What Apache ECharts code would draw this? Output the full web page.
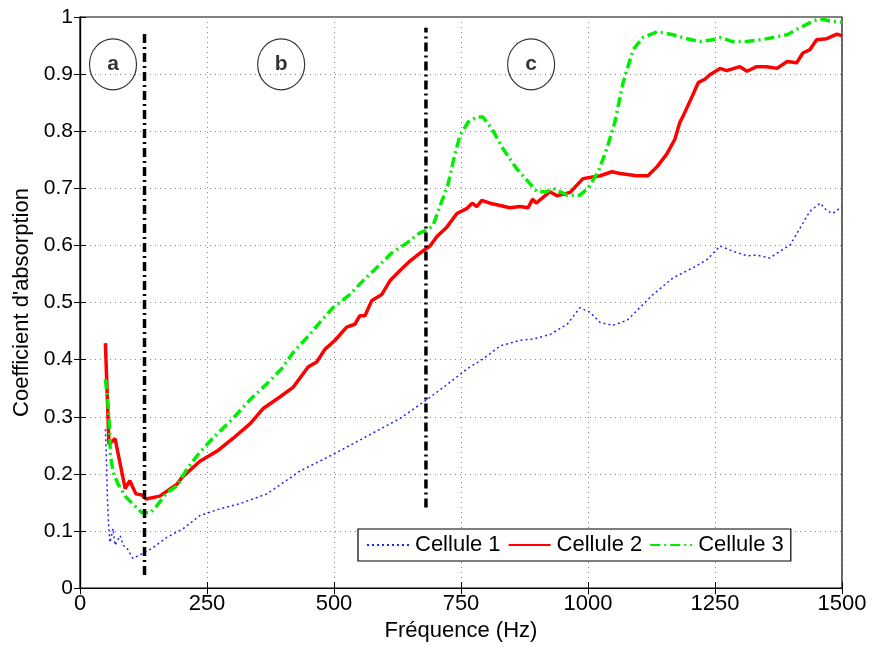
<!DOCTYPE html>
<html>
<head>
<meta charset="utf-8">
<script src="https://cdn.jsdelivr.net/npm/echarts@6/dist/echarts.min.js"></script>
<style>html,body{margin:0;padding:0;background:#fff;}#chart{width:872px;height:647px;}</style>
</head>
<body>
<div id="chart"></div>
<script>
// ---- Data ----
const freq1 = [50,52,54,56,59,65,69,79,85,93,104,124,144,171,203,236,276,315,368,433,498,565,630,683,722,762,793,827,866,892,925,959,984,1004,1024,1049,1077,1102,1128,1167,1207,1234,1260,1285,1313,1332,1358,1378,1398,1417,1437,1457,1470,1482,1500];
const cell1 = [0.278,0.226,0.156,0.115,0.080,0.104,0.075,0.092,0.075,0.069,0.052,0.061,0.071,0.089,0.104,0.127,0.139,0.148,0.165,0.205,0.234,0.266,0.297,0.330,0.356,0.384,0.401,0.424,0.434,0.436,0.444,0.462,0.491,0.483,0.465,0.460,0.469,0.491,0.514,0.543,0.561,0.575,0.599,0.590,0.582,0.583,0.578,0.590,0.601,0.630,0.660,0.674,0.661,0.656,0.668];

const freq2 = [50,57,69,89,98,110,122,130,157,191,200,236,270,301,335,360,394,420,449,466,482,502,525,541,551,561,574,594,610,630,650,673,689,703,722,742,762,772,781,791,807,827,846,866,882,891,898,925,939,965,990,1024,1047,1063,1096,1118,1136,1155,1171,1181,1187,1205,1217,1230,1240,1260,1273,1299,1313,1332,1352,1372,1392,1411,1423,1437,1450,1470,1480,1490,1500];
const cell2 = [0.429,0.252,0.262,0.174,0.188,0.165,0.163,0.156,0.161,0.182,0.193,0.222,0.24,0.262,0.288,0.314,0.335,0.352,0.387,0.396,0.418,0.434,0.457,0.462,0.477,0.477,0.503,0.514,0.538,0.556,0.573,0.589,0.599,0.616,0.632,0.656,0.665,0.674,0.668,0.679,0.674,0.670,0.666,0.668,0.666,0.681,0.674,0.694,0.687,0.693,0.717,0.722,0.729,0.726,0.722,0.722,0.738,0.760,0.786,0.816,0.826,0.861,0.885,0.891,0.899,0.910,0.906,0.913,0.905,0.913,0.913,0.910,0.922,0.920,0.937,0.943,0.960,0.962,0.966,0.970,0.967];

const freq3 = [50,55,58,60,66,75,89,104,122,138,151,171,191,210,236,262,301,335,368,397,420,447,472,498,531,557,584,614,643,669,683,695,709,724,738,748,764,781,793,811,833,860,880,900,919,931,959,984,1000,1020,1037,1053,1069,1089,1108,1136,1167,1195,1220,1246,1260,1285,1313,1339,1365,1392,1417,1443,1457,1476,1500];
const cell3 = [0.366,0.323,0.283,0.231,0.201,0.182,0.161,0.147,0.132,0.132,0.144,0.167,0.179,0.208,0.238,0.263,0.297,0.330,0.358,0.384,0.413,0.439,0.465,0.491,0.514,0.538,0.561,0.587,0.604,0.622,0.627,0.635,0.670,0.705,0.760,0.792,0.816,0.825,0.825,0.804,0.769,0.734,0.714,0.694,0.694,0.700,0.688,0.688,0.700,0.729,0.769,0.816,0.885,0.943,0.964,0.974,0.969,0.962,0.957,0.960,0.964,0.957,0.957,0.960,0.964,0.969,0.981,0.993,0.997,0.993,0.991];

const seriesNames = ['Cellule 1','Cellule 2','Cellule 3'];

// Zone separators (frequency, lower and upper extent)
const sepFreq = [127, 681];
const sepLow = [0.023, 0.141];
const sepHigh = [0.972, 0.981];

// Zone annotations
const zoneLabels = ['a','b','c'];
const zoneFreq = [65, 396, 888];
const zoneLevel = [0.917, 0.917, 0.917];

const xTicks = {min:0, max:1500, interval:250};
const yTicks = {min:0, max:1, interval:0.1};

// ---- Chart ----
const FONT = '"Liberation Sans", Arial, sans-serif';
const pairs = (xs, ys) => xs.map((x,i)=>[x, ys[i]]);

const chart = echarts.init(document.getElementById('chart'), null, {renderer:'canvas'});

const sepSeries = sepFreq.map((f,i)=>({
  type:'line', name:'sep'+i, silent:true, symbol:'none', z:5,
  data:[[f, sepLow[i]],[f, sepHigh[i]]],
  lineStyle:{color:'#000', width:3.5, type:[9,4,2,4]}
}));

const option = {
  animation:false,
  backgroundColor:'#fff',
  grid:{left:80, right:30, top:17, bottom:54, show:true, borderColor:'#000', borderWidth:1.2},
  legend:{
    data:seriesNames,
    left:358, top:529,
    padding:[5,7,5,8],
    itemWidth:42, itemHeight:14, itemGap:7,
    itemStyle:{opacity:0},
    borderColor:'#000', borderWidth:1.2, backgroundColor:'#fff',
    textStyle:{fontFamily:FONT, fontSize:22, color:'#000', padding:[0,0,0,1]}
  },
  xAxis:[{
    type:'value', min:xTicks.min, max:xTicks.max, interval:xTicks.interval,
    name:'Fréquence (Hz)', nameLocation:'middle', nameGap:28,
    nameTextStyle:{fontFamily:FONT, fontSize:22, color:'#000'},
    axisLine:{onZero:false, lineStyle:{color:'#000', width:1.2}},
    axisTick:{inside:true, length:6, lineStyle:{color:'#000'}},
    axisLabel:{fontFamily:FONT, fontSize:22, color:'#000', margin:5, formatter:v=>String(v)},
    splitLine:{show:true, lineStyle:{color:'#888', width:1, type:[1,4]}}
  },{
    type:'value', position:'top', min:xTicks.min, max:xTicks.max, interval:xTicks.interval,
    axisLine:{lineStyle:{color:'#000', width:1.2}},
    axisTick:{inside:true, length:6, lineStyle:{color:'#000'}},
    axisLabel:{show:false}, splitLine:{show:false}
  }],
  yAxis:[{
    type:'value', min:yTicks.min, max:yTicks.max, interval:yTicks.interval,
    name:"Coefficient d'absorption", nameLocation:'middle', nameGap:42,
    nameTextStyle:{fontFamily:FONT, fontSize:22, color:'#000'},
    axisLine:{show:true, onZero:false, lineStyle:{color:'#000', width:1.2}},
    axisTick:{show:true, inside:true, length:6, lineStyle:{color:'#000'}},
    axisLabel:{fontFamily:FONT, fontSize:21, color:'#000', margin:7, formatter:v=>String(Math.round(v*10)/10)},
    splitLine:{show:true, lineStyle:{color:'#888', width:1, type:[1,4]}}
  },{
    type:'value', position:'right', min:yTicks.min, max:yTicks.max, interval:yTicks.interval,
    axisLine:{show:true, lineStyle:{color:'#000', width:1.2}},
    axisTick:{show:true, inside:true, length:6, lineStyle:{color:'#000'}},
    axisLabel:{show:false}, splitLine:{show:false}
  }],
  series:[
    {type:'line', name:seriesNames[0], data:pairs(freq1, cell1), symbol:'none', z:3,
     lineStyle:{color:'#2222ff', width:1.5, type:[2,3]}, itemStyle:{color:'#2222ff'}},
    {type:'line', name:seriesNames[1], data:pairs(freq2, cell2), symbol:'none', z:3,
     lineStyle:{color:'#ff0000', width:3.5, type:'solid'}, itemStyle:{color:'#ff0000'}},
    {type:'line', name:seriesNames[2], data:pairs(freq3, cell3), symbol:'none', z:4,
     lineStyle:{color:'#00ee00', width:3.5, type:[10,4,2,4]}, itemStyle:{color:'#00ee00'}},
    ...sepSeries,
    {type:'scatter', name:'zones', silent:true, z:6,
     data:zoneFreq.map((f,i)=>({value:[f, zoneLevel[i]], label:{formatter:zoneLabels[i]}})),
     symbol:'circle', symbolSize:[47,51],
     itemStyle:{color:'rgba(0,0,0,0)', borderColor:'#000', borderWidth:1.2},
     label:{show:true, position:'inside', fontFamily:FONT, fontSize:21, fontWeight:'bold', color:'#000'}}
  ]
};
chart.setOption(option);
</script>
</body>
</html>
